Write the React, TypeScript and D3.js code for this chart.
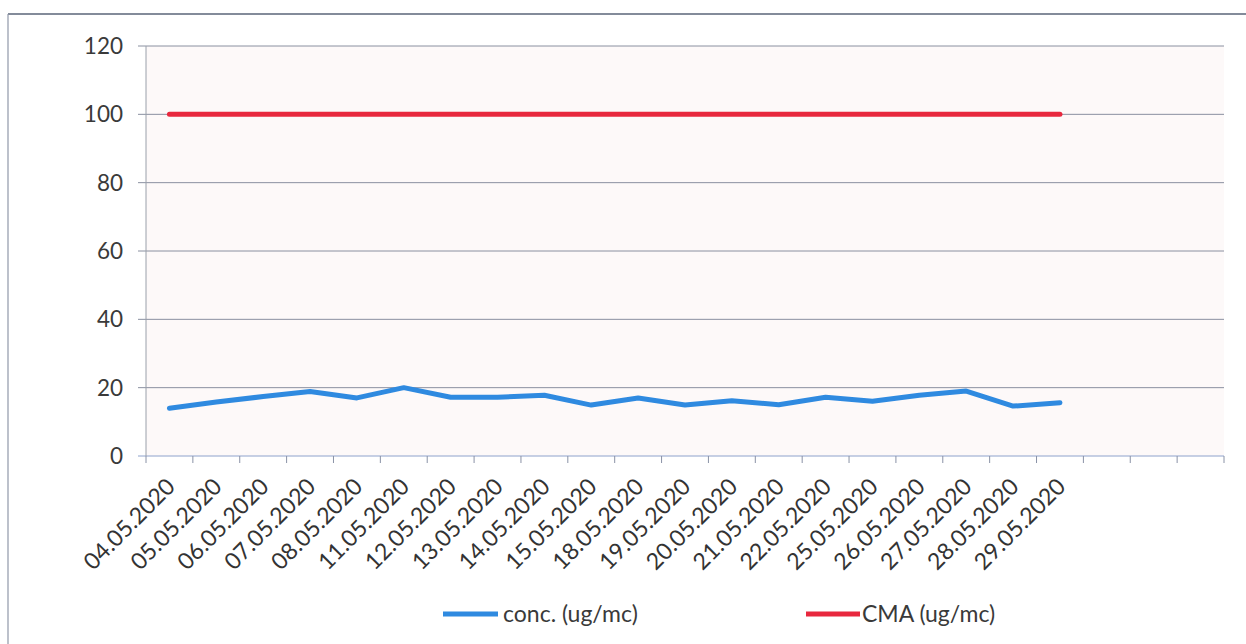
import React from "react";
import * as d3 from "d3";

const categories = [
  "04.05.2020", "05.05.2020", "06.05.2020", "07.05.2020", "08.05.2020",
  "11.05.2020", "12.05.2020", "13.05.2020", "14.05.2020", "15.05.2020",
  "18.05.2020", "19.05.2020", "20.05.2020", "21.05.2020", "22.05.2020",
  "25.05.2020", "26.05.2020", "27.05.2020", "28.05.2020", "29.05.2020",
];
const emptySlots = ["", "", ""];
const concValues = [14, 15.8, 17.4, 18.9, 17, 20, 17.2, 17.2, 17.8, 14.9, 17, 14.9, 16.2, 15, 17.2, 16, 17.8, 19, 14.6, 15.6];
const cmaValues = [100, 100, 100, 100, 100, 100, 100, 100, 100, 100, 100, 100, 100, 100, 100, 100, 100, 100, 100, 100];
const yTicks = [0, 20, 40, 60, 80, 100, 120];
const seriesNames = ["conc. (ug/mc)", "CMA (ug/mc)"];

const W = 1246;
const H = 644;
const left = 146;
const right = 1224;
const top = 46;
const bottom = 456;
const FONT = "Lato, 'Open Sans', sans-serif";

export default function App() {
  const allCats = [...categories, ...emptySlots.map((_, i) => `__empty${i}`)];
  const x = d3.scaleBand<string>().domain(allCats).range([left, right]).padding(0);
  const y = d3.scaleLinear().domain([0, 120]).range([bottom, top]);
  const cx = (i: number) => (x(allCats[i]) as number) + x.bandwidth() / 2;

  const line = d3
    .line<number>()
    .x((_, i) => cx(i))
    .y((d) => y(d));

  const boundaries = d3.range(allCats.length + 1).map((i) => left + i * x.bandwidth());

  return (
    <svg width={W} height={H} style={{ position: "absolute", left: 0, top: 0, background: "#ffffff" }}>
      {/* outer border */}
      <line x1={8} y1={14} x2={W} y2={14} stroke="#5a6478" strokeWidth={1.5} />
      <line x1={8} y1={14} x2={8} y2={H} stroke="#9098a8" strokeWidth={1.2} />
      {/* plot area */}
      <rect x={left} y={top} width={right - left} height={bottom - top} fill="#fdf9f9" />
      {/* gridlines */}
      {yTicks.map((t) => (
        <line key={t} x1={left - 8} x2={right} y1={y(t)} y2={y(t)} stroke={t === 0 ? "#8ea2cc" : "#8a90a0"} strokeWidth={1} />
      ))}
      {/* y axis */}
      <line x1={left} x2={left} y1={top} y2={bottom} stroke="#9aa0aa" strokeWidth={1} />
      {/* x ticks */}
      {boundaries.map((bx, i) => (
        <line key={i} x1={bx} x2={bx} y1={bottom} y2={bottom + 7} stroke="#8a92a6" strokeWidth={1} />
      ))}
      {/* y labels */}
      {yTicks.map((t) => (
        <text key={t} x={123} y={y(t)} dy="0.35em" textAnchor="end" fontFamily={FONT} fontSize={22.5} fill="#3a3a3a">
          {t}
        </text>
      ))}
      {/* x labels */}
      {categories.map((c, i) => (
        <text
          key={c}
          transform={`translate(${cx(i) + 7},${bottom + 32}) rotate(-45)`}
          textAnchor="end"
          fontFamily={FONT}
          fontSize={23}
          fill="#333333"
        >
          {c}
        </text>
      ))}
      {/* series */}
      <path d={line(cmaValues) || ""} fill="none" stroke="#e8283e" strokeWidth={5} strokeLinecap="round" strokeLinejoin="round" />
      <path d={line(concValues) || ""} fill="none" stroke="#2f8ae0" strokeWidth={5} strokeLinecap="round" strokeLinejoin="round" />
      {/* legend */}
      <line x1={443} x2={498} y1={614} y2={614} stroke="#2f8ae0" strokeWidth={5} />
      <text x={503} y={614} dy="0.35em" fontFamily={FONT} fontSize={23} fill="#3a3a3a">
        {seriesNames[0]}
      </text>
      <line x1={806} x2={860} y1={614} y2={614} stroke="#e8283e" strokeWidth={5} />
      <text x={862} y={614} dy="0.35em" fontFamily={FONT} fontSize={23} fill="#3a3a3a">
        {seriesNames[1]}
      </text>
    </svg>
  );
}
